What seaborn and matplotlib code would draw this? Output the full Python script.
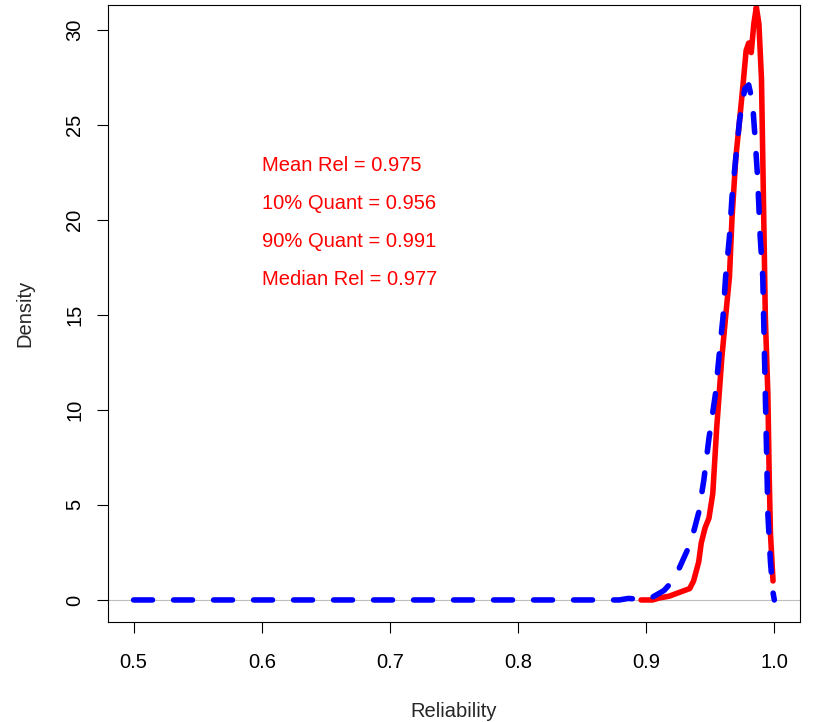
import matplotlib
matplotlib.use("Agg")
import matplotlib.pyplot as plt
import matplotlib.transforms as mtransforms
import pandas as pd
import seaborn as sns

# density curves (x = reliability, y = density)
blue_x = [0.500, 0.600, 0.700, 0.800, 0.860, 0.879, 0.886, 0.893, 0.900, 0.905,
          0.914, 0.918, 0.926, 0.932, 0.9375, 0.941, 0.945, 0.949, 0.954, 0.957,
          0.960, 0.962, 0.965, 0.967, 0.970, 0.973, 0.977, 0.980, 0.983, 0.985,
          0.987, 0.989, 0.991, 0.992, 0.993, 0.994, 0.995, 0.997, 0.999, 1.000]
blue_y = [0.0, 0.0, 0.0, 0.0, 0.0, 0.0, 0.08, 0.05, 0.05, 0.15,
          0.5, 0.8, 1.7, 2.6, 3.7, 4.6, 6.3, 8.5, 10.8, 12.9,
          14.9, 17.0, 19.1, 21.2, 23.3, 25.3, 26.9, 27.1, 26.2, 24.3,
          22.2, 19.1, 17.0, 13.9, 10.8, 7.7, 4.5, 2.0, 0.4, 0.0]

red_x = [0.896, 0.905, 0.910, 0.918, 0.926, 0.934, 0.937, 0.939, 0.941, 0.943,
         0.946, 0.949, 0.952, 0.955, 0.959, 0.962, 0.965, 0.967, 0.970, 0.973,
         0.976, 0.978, 0.980, 0.982, 0.984, 0.986, 0.988, 0.990, 0.991, 0.992,
         0.993, 0.995, 0.996, 0.997, 0.999]
red_y = [0.0, 0.0, 0.1, 0.2, 0.4, 0.6, 1.0, 1.5, 2.0, 3.0,
         3.8, 4.3, 5.6, 9.0, 12.7, 14.9, 17.0, 20.1, 23.3, 25.3,
         27.4, 28.9, 29.3, 28.8, 30.3, 31.2, 30.3, 27.4, 23.3, 19.1,
         14.9, 10.8, 6.6, 3.5, 1.0]

stat_labels = ["Mean Rel = 0.975", "10% Quant = 0.956",
               "90% Quant = 0.991", "Median Rel = 0.977"]
stat_y = [23, 21, 19, 17]

x_ticks = [0.5, 0.6, 0.7, 0.8, 0.9, 1.0]
y_ticks = [0, 5, 10, 15, 20, 25, 30]

df = pd.concat([
    pd.DataFrame({"x": blue_x, "y": blue_y, "series": "blue"}),
    pd.DataFrame({"x": red_x, "y": red_y, "series": "red"}),
])

sns.set_style("white")
plt.rcParams["font.family"] = ["Liberation Sans", "DejaVu Sans"]

fig = plt.figure(figsize=(8.15, 7.22), dpi=100)
ax = fig.add_axes([0.1325, 0.1385, 0.849, 0.8545])

ax.axhline(0, color="#bebebe", lw=0.8, zorder=1)

sns.lineplot(data=df[df.series == "blue"], x="x", y="y", color="#0000ff",
             lw=4.0, ax=ax, zorder=3, estimator=None, sort=False)
sns.lineplot(data=df[df.series == "red"], x="x", y="y", color="#ff0000",
             lw=4.0, ax=ax, zorder=2, estimator=None, sort=False)
blue_line, red_line = ax.lines[1], ax.lines[2]
blue_line.set_dashes((3.4, 3.8))
blue_line.set_dash_capstyle("round")
red_line.set_solid_capstyle("round")
red_line.set_solid_joinstyle("round")

txt_tr = mtransforms.offset_copy(ax.transData, fig=fig, x=0, y=-3, units="dots")
for txt, yy in zip(stat_labels, stat_y):
    ax.text(0.6, yy, txt, color="#ff0000", fontsize=14.5, ha="left",
            va="center", transform=txt_tr)

ax.set_xlim(0.48, 1.02)
ax.set_ylim(-1.16, 31.3)
ax.set_xticks(x_ticks)
ax.set_xticklabels(["0.5", "0.6", "0.7", "0.8", "0.9", "1.0"])
ax.set_yticks(y_ticks)
ax.tick_params(axis="both", direction="out", length=8, width=0.8,
               labelsize=14.5, colors="black", bottom=True, left=True)
ax.tick_params(axis="x", pad=14)
ax.tick_params(axis="y", pad=9)
for lab in ax.get_yticklabels():
    lab.set_rotation(90)
    lab.set_va("center")

for sp in ax.spines.values():
    sp.set_color("black")
    sp.set_linewidth(0.8)

ax.set_xlabel("Reliability", fontsize=14.5, labelpad=22)
ax.set_ylabel("Density", fontsize=14.5, labelpad=22)
ax.grid(False)

plt.savefig("out.png", dpi=100)
